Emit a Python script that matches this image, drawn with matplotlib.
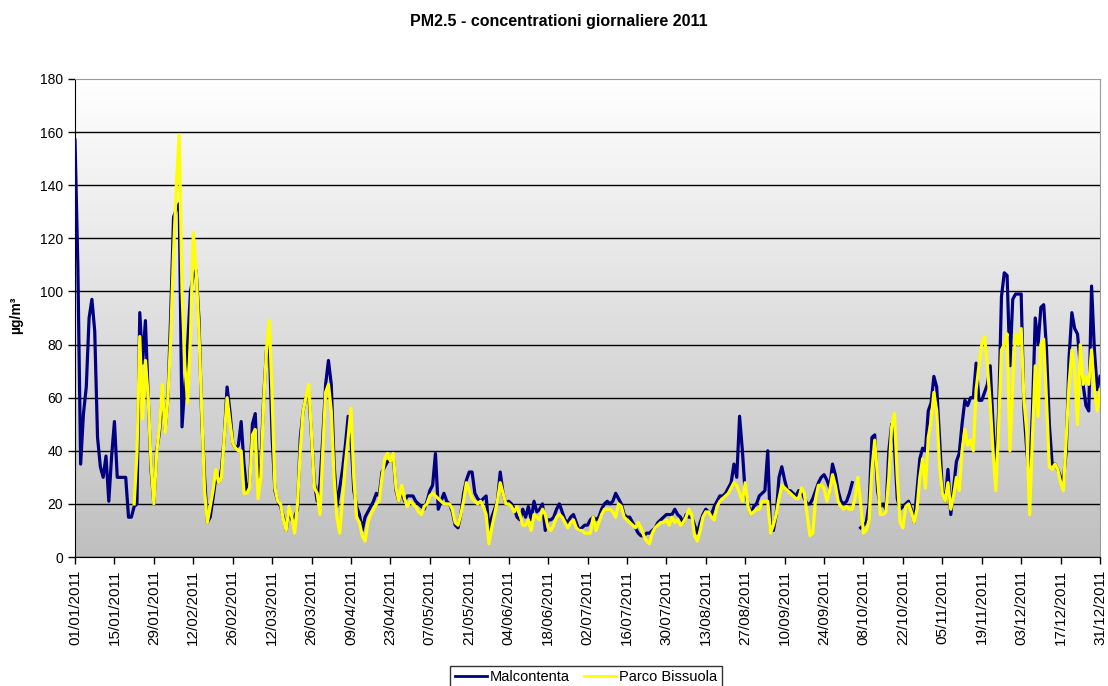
import matplotlib
matplotlib.use("Agg")
import matplotlib.pyplot as plt
import numpy as np
import pandas as pd

plt.rcParams["font.family"] = ["Liberation Sans", "DejaVu Sans"]

nan = np.nan

# daily PM2.5 (ug/m3), 01/01/2011 .. 31/12/2011
malcontenta = [
    # 01/01 - 23/01
    157, 110, 35, 54, 64, 90, 97, 85, 45, 34, 30, 38, 21, 38, 51, 30, 30, 30, 30, 15, 15, 19, 20,
    # 24/01 - 03/03
    92, 73, 89, 60, 33, 20, 40, 47, 62, 48, 60, 92, 128, 131, 133, 49, 65, 80, 100, 106,
    108, 90, 52, 30, 13, 15, 22, 30, 28, 33, 45, 64, 55, 43, 41, 42, 51, 35, 25, 28,
    # 04/03 - 03/05
    50, 54, 30, 35, 60, 78, 80, 45, 25, 21, 19, 15, 10, 18, 14, 15, 18, 45, 55, 60,
    62, 45, 28, 21, 28, 45, 65, 74, 65, 35, 19, 26, 33, 42, 53, 45, 25, 19, 16, 10,
    15, 17, 19, 21, 24, 23, 32, 34, 36, 36, 38, 25, 21, 25, 21, 23, 23, 23, 21, 20, 19,
    # 04/05 - 01/07
    18, 21, 25, 27, 39, 18, 21, 24, 21, 20, 17, 12, 11, 16, 24, 29, 32, 32, 24, 22,
    21, 22, 23, 10, 15, 18, 21, 32, 24, 20, 21, 20, 18, 15, 14, 18, 15, 19, 14, 21,
    17, 18, 20, 10, 14, 14, 15, 18, 20, 17, 14, 13, 15, 16, 13, 10, 11, 12, 12,
    # 02/07 - 31/08
    14, 15, 14, 15, 18, 20, 21, 20, 21, 24, 22, 20, 16, 15, 15, 13, 11, 9, 8, 8,
    9, 9, 10, 11, 13, 14, 15, 16, 16, 16, 18, 16, 15, 13, 16, 15, 15, 12, 9, 13,
    16, 18, 17, 16, 19, 21, 23, 23, 24, 26, 28, 35, 30, 53, 40, 24, 20, 16, 19, 20, 23,
    # 01/09 - 30/10
    24, 25, 40, 10, 10, 16, 30, 34, 29, 25, 25, 24, 23, 25, 25, 22, 20, 20, 22, 25,
    28, 30, 31, 29, 26, 35, 31, 25, 21, 20, 21, 24, 28, nan, nan, 11, 12, 13, 20, 45,
    46, 25, 19, 20, 18, 40, 50, 42, 22, 18, 19, 20, 21, 18, 13, 25, 37, 41, 40, 55,
    # 31/10 - 31/12
    58, 68, 64, 45, 25, 21, 33, 16, 26, 36, 39,
    50, 59, 57, 60, 60, 73, 59, 59, 62, 65, 72, 50, 30, 55, 98, 107, 106, 72, 97, 99,
    99, 99, 55, 40, 30, 55, 90, 80, 94, 95, 78, 50, 35, 35, 33, 30, 29, 40, 75, 92,
    86, 84, 72, 65, 57, 55, 102, 78, 63, 68,
]

parco_bissuola = [
    nan, nan, nan, nan, nan, nan, nan, nan, nan, nan, nan, nan, nan, nan, nan, nan, nan, nan, nan, nan, nan, 20, 39,
    83, 52, 74, 60, 35, 20, 39, 49, 65, 47, 60, 83, 115, 140, 159, 100, 72, 58, 83, 122,
    108, 85, 55, 25, 13, 19, 25, 33, 28, 30, 45, 60, 51, 43, 41, 40, 40, 24, 24, 26,
    46, 48, 22, 30, 58, 78, 89, 60, 26, 21, 20, 14, 10, 19, 15, 9, 20, 40, 55, 60,
    65, 46, 26, 24, 16, 40, 62, 65, 55, 30, 15, 9, 22, 35, 45, 56, 30, 15, 13, 8,
    6, 13, 16, 18, 20, 21, 30, 37, 39, 36, 39, 26, 21, 27, 22, 19, 21, 20, 19, 17, 16,
    19, 20, 23, 24, 23, 22, 21, 20, 20, 20, 18, 13, 12, 16, 21, 28, 25, 22, 21, 20,
    21, 19, 16, 5, 11, 16, 21, 28, 24, 20, 20, 19, 17, 19, 16, 12, 12, 14, 10, 16,
    15, 14, 18, 16, 11, 10, 12, 15, 16, 15, 13, 11, 13, 14, 11, 10, 10, 9, 9,
    9, 15, 10, 13, 16, 18, 18, 18, 17, 15, 20, 19, 15, 14, 13, 12, 11, 13, 11, 8,
    6, 5, 9, 11, 12, 13, 13, 14, 12, 15, 13, 14, 12, 13, 15, 18, 16, 8, 6, 10,
    15, 17, 17, 15, 14, 19, 21, 22, 23, 24, 26, 28, 27, 24, 21, 28, 19, 16, 17, 18, 18,
    21, 21, 21, 9, 12, 16, 22, 27, 26, 25, 24, 23, 22, 22, 26, 24, 16, 8, 9, 22,
    27, 27, 26, 21, 25, 31, 27, 21, 19, 18, 19, 18, 18, 22, 30, 20, 9, 10, 14, 33,
    44, 30, 16, 16, 17, 30, 49, 54, 30, 13, 11, 19, 20, 17, 13, 18, 30, 37, 26, 45,
    51, 62, 55, 35, 24, 21, 28, 18, 23, 30, 25,
    40, 48, 42, 44, 40, 63, 72, 80, 83, 72, 58, 40, 25, 49, 78, 80, 84, 40, 65, 84,
    80, 86, 59, 47, 16, 45, 72, 53, 80, 82, 59, 34, 33, 35, 33, 28, 25, 45, 65, 78,
    70, 50, 80, 65, 68, 65, 78, 63, 55, 63,
]

days = pd.date_range("2011-01-01", "2011-12-31", freq="D")
tick_days = days[::14]
y_ticks = list(range(0, 181, 20))

fig = plt.figure(figsize=(11.08, 6.86), dpi=100)
ax = fig.add_axes([0.0677, 0.188, 0.9251, 0.697])

# grey gradient background of the plot area
grad = np.linspace(0.75, 1.0, 256)[::-1]
img = np.dstack([grad, grad, grad]).reshape(256, 1, 3)
ax.imshow(img, extent=[0, 1, 0, 1], transform=ax.transAxes, aspect="auto", zorder=0)

ax.plot(days, malcontenta, color="#000080", lw=2.3, label="Malcontenta", zorder=3)
ax.plot(days, parco_bissuola, color="#ffff00", lw=2.3, label="Parco Bissuola", zorder=4)

ax.set_xlim(days[0], days[-1])
ax.set_ylim(0, 180)
ax.set_yticks(y_ticks)
ax.set_xticks(tick_days)
ax.set_xticklabels([d.strftime("%d/%m/%Y") for d in tick_days], rotation=90, fontsize=11)
ax.tick_params(axis="y", labelsize=10, direction="out", length=5, width=1)
ax.tick_params(axis="x", direction="out", length=5, width=1, pad=4)

ax.set_axisbelow(True)
ax.grid(axis="y", color="black", lw=1.0)
ax.get_ygridlines()[-1].set_visible(False)

for side in ("top", "right"):
    ax.spines[side].set_color("#9a9a9a")
for side in ("left", "bottom"):
    ax.spines[side].set_color("black")

fig.text(0.504, 0.968, "PM2.5 - concentrationi giornaliere 2011", ha="center", va="center",
         fontsize=11.5, fontweight="bold")
fig.text(0.015, 0.541, "µg/m³", rotation=90, ha="center", va="center", fontsize=10,
         fontweight="bold")

fig.legend(loc="upper center", bbox_to_anchor=(0.529, 0.040), ncol=2, fontsize=10.5,
           frameon=True, fancybox=False, edgecolor="black", handlelength=2.2,
           handletextpad=0.2, columnspacing=1.0, borderpad=0.3)
for line in fig.legends[0].get_lines():
    line.set_linewidth(2)

fig.savefig("out.png", dpi=100)
